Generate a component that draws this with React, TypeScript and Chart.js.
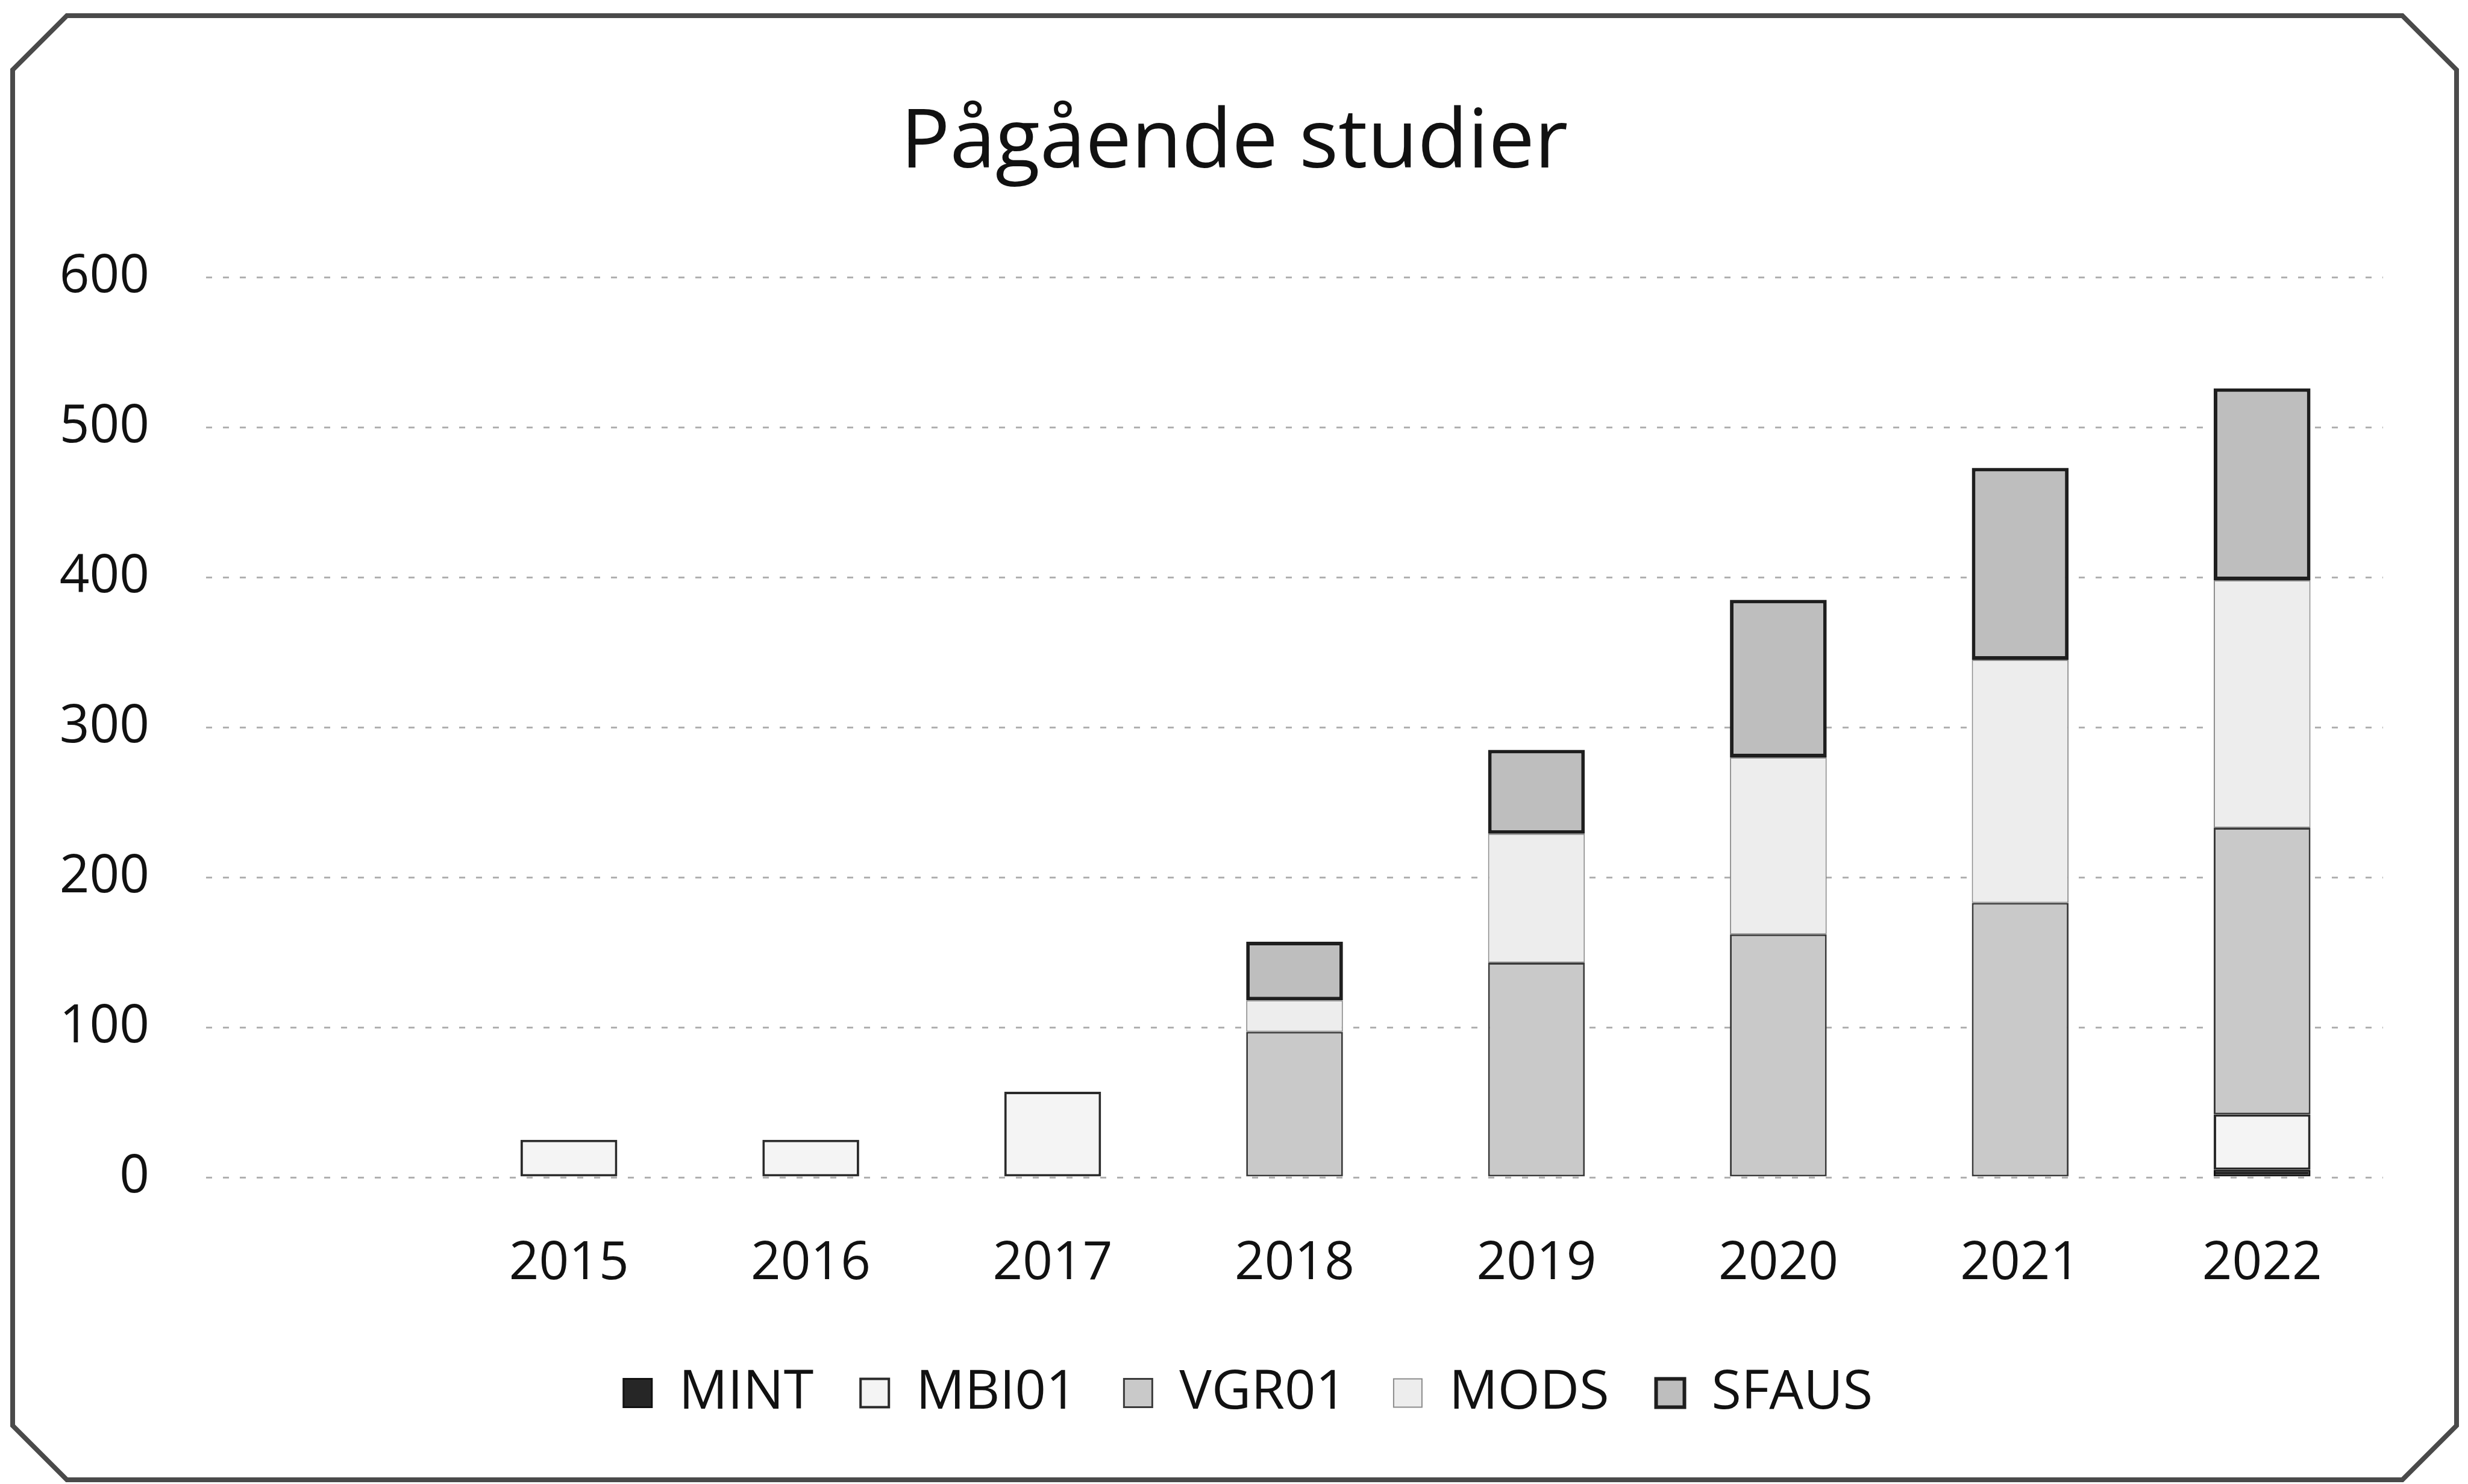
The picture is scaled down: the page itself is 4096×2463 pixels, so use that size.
import React, { useEffect, useRef } from 'react';
import { Chart, registerables } from 'chart.js';

Chart.register(...registerables);

// ---- data ----
const categories: string[] = ['', '2015', '2016', '2017', '2018', '2019', '2020', '2021', '2022'];
const seriesNames: string[] = ['MINT', 'MBI01', 'VGR01', 'MODS', 'SFAUS'];
const MINT: (number | null)[] = [null, null, null, null, null, null, null, null, 5];
const MBI01: (number | null)[] = [null, 25, 25, 57, null, null, null, null, 37];
const VGR01: (number | null)[] = [null, null, null, null, 97, 143, 162, 183, 191];
const MODS: (number | null)[] = [null, null, null, null, 21, 86, 118, 162, 165];
const SFAUS: (number | null)[] = [null, null, null, null, 39, 56, 105, 128, 128];
const yTickValues: number[] = [0, 100, 200, 300, 400, 500, 600];
const chartTitle = 'Pågående studier';

const W = 4096;
const H = 2463;
const FONT = "'Open Sans', 'Noto Sans', sans-serif";

const framePlugin = {
  id: 'frame',
  afterLayout(chart: any) {
    // centre the title and legend on the whole card rather than the padded layout area
    const tb = chart.titleBlock;
    if (tb) {
      tb.left += 71;
      tb.right += 71;
    }
    const lg = chart.legend;
    if (lg) {
      lg.left += 94;
      lg.right += 94;
    }
  },
  beforeDraw(chart: any) {
    const ctx = chart.ctx;
    ctx.save();
    ctx.fillStyle = '#ffffff';
    ctx.fillRect(0, 0, chart.width, chart.height);
    ctx.restore();
  },
  afterDraw(chart: any) {
    const ctx = chart.ctx;
    const L = 21, T = 26, R = chart.width - 19, B = chart.height - 7, c = 90;
    ctx.save();
    ctx.strokeStyle = '#4a4a4a';
    ctx.lineWidth = 8;
    ctx.beginPath();
    ctx.moveTo(L + c, T);
    ctx.lineTo(R - c, T);
    ctx.lineTo(R, T + c);
    ctx.lineTo(R, B - c);
    ctx.lineTo(R - c, B);
    ctx.lineTo(L + c, B);
    ctx.lineTo(L, B - c);
    ctx.lineTo(L, T + c);
    ctx.closePath();
    ctx.stroke();
    ctx.restore();
  },
};

export default function App() {
  const ref = useRef<HTMLCanvasElement | null>(null);

  useEffect(() => {
    if (!ref.current) return;
    const styles = [
      { bg: '#262626', border: '#111111', bw: 3 },
      { bg: '#f4f4f4', border: '#2a2a2a', bw: 4 },
      { bg: '#c9c9c9', border: '#3a3a3a', bw: 3 },
      { bg: '#ededed', border: '#8c8c8c', bw: 2 },
      { bg: '#bebebe', border: '#1e1e1e', bw: 6 },
    ];
    const values = [MINT, MBI01, VGR01, MODS, SFAUS];
    const chart = new Chart(ref.current, {
      type: 'bar',
      data: {
        labels: categories,
        datasets: seriesNames.map((name, i) => ({
          label: name,
          data: values[i],
          backgroundColor: styles[i].bg,
          borderColor: styles[i].border,
          borderWidth: styles[i].bw,
          borderSkipped: false,
          categoryPercentage: 1,
          barPercentage: 0.4,
        })),
      },
      options: {
        responsive: false,
        animation: false,
        devicePixelRatio: 1,
        layout: { padding: { left: 0, right: 141, top: 60, bottom: 96 } },
        plugins: {
          title: {
            display: true,
            text: chartTitle,
            color: '#111111',
            font: { family: FONT, size: 136, weight: 'normal' },
            padding: { top: 98, bottom: 139 },
          },
          legend: {
            display: true,
            position: 'bottom',
            labels: {
              color: '#111111',
              font: { family: FONT, size: 90 },
              boxWidth: 47,
              boxHeight: 47,
              padding: 78,
            },
          },
          tooltip: { enabled: false },
        },
        scales: {
          x: {
            stacked: true,
            grid: { display: false },
            border: { display: false },
            ticks: {
              color: '#111111',
              font: { family: FONT, size: 87 },
              padding: 84,
              maxRotation: 0,
              autoSkip: false,
            },
            afterFit(scale: any) {
              scale.height = 235;
            },
          },
          y: {
            stacked: true,
            min: 0,
            max: 600,
            afterBuildTicks(scale: any) {
              scale.ticks = yTickValues.map((v) => ({ value: v }));
            },
            grid: { color: '#b0b0b0', lineWidth: 3, drawTicks: false },
            border: { display: false, dash: [10, 18] },
            ticks: {
              color: '#111111',
              font: { family: FONT, size: 87 },
              padding: 94,
            },
            afterFit(scale: any) {
              scale.width = 342;
            },
          },
        },
      },
      plugins: [framePlugin],
    });
    return () => chart.destroy();
  }, []);

  return (
    <div style={{ position: 'fixed', left: 0, top: 0, width: W, height: H, background: '#fff' }}>
      <canvas ref={ref} width={W} height={H} style={{ display: 'block', width: W, height: H }} />
    </div>
  );
}
